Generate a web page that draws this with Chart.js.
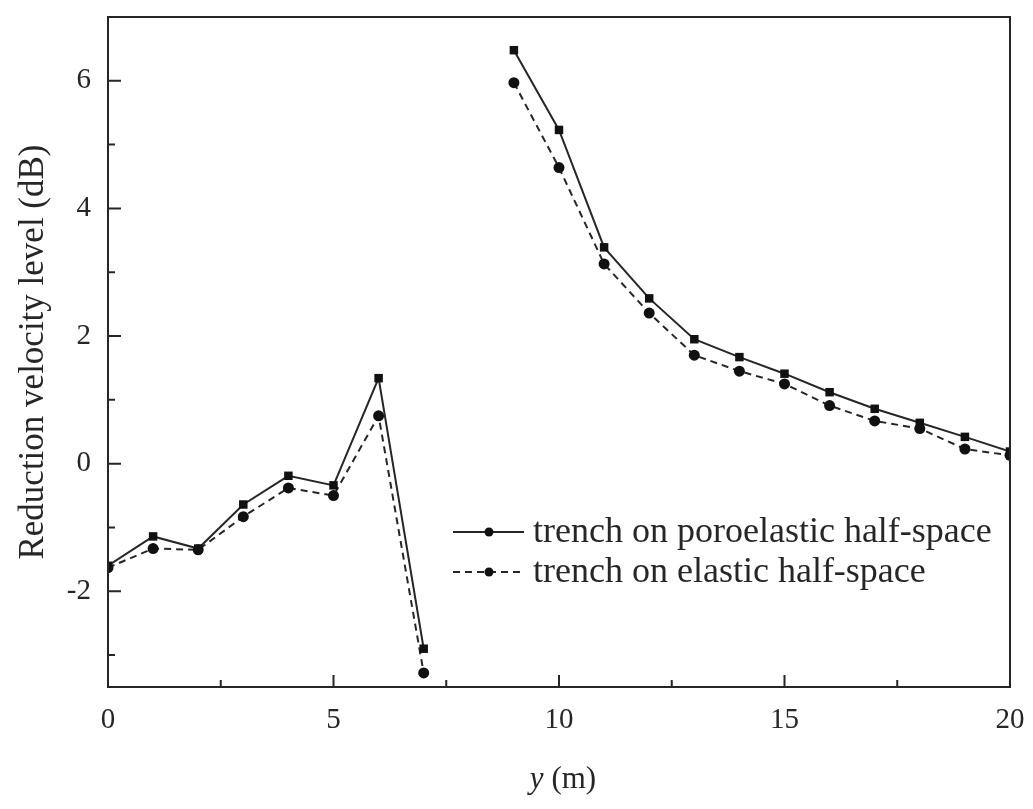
<!DOCTYPE html>
<html>
<head>
<meta charset="utf-8">
<script src="https://cdn.jsdelivr.net/npm/chart.js@4.4.0/dist/chart.umd.min.js"></script>
<style>
html,body{margin:0;padding:0;background:#fff;}
#wrap{width:1033px;height:809px;}
</style>
</head>
<body>
<div id="wrap"><canvas id="c" width="1033" height="809"></canvas></div>
<script>
// ---- data ----
const positions = [0,1,2,3,4,5,6,7,8,9,10,11,12,13,14,15,16,17,18,19,20];
const poroelastic = [-1.60,-1.14,-1.33,-0.64,-0.19,-0.34,1.34,-2.90,null,6.48,5.23,3.39,2.59,1.95,1.67,1.41,1.12,0.86,0.64,0.42,0.19];
const elastic = [-1.63,-1.33,-1.35,-0.83,-0.38,-0.50,0.75,-3.28,null,5.97,4.64,3.13,2.36,1.70,1.45,1.25,0.91,0.67,0.55,0.23,0.13];
const xTicks = [0,5,10,15,20];
const yTicks = [-2,0,2,4,6];
const xMinor = [2.5,7.5,12.5,17.5];
const yMinor = [-3,-1,1,3,5];
const seriesNames = ['trench on poroelastic half-space','trench on elastic half-space'];

const INK = '#262626';
const SERIF = '"Liberation Serif", "DejaVu Serif", serif';

const toPts = arr => positions.map((x,i)=>({x:x, y:arr[i]}));

const decor = {
  id:'decor',
  afterDatasetsDraw(chart){
    const ctx = chart.ctx, a = chart.chartArea;
    const xs = chart.scales.x, ys = chart.scales.y;
    ctx.save();
    ctx.strokeStyle = INK;
    ctx.lineWidth = 2;
    ctx.strokeRect(a.left, a.top, a.right-a.left, a.bottom-a.top);
    ctx.beginPath();
    xTicks.forEach(v=>{const p=xs.getPixelForValue(v); ctx.moveTo(p,a.bottom); ctx.lineTo(p,a.bottom-12);});
    xMinor.forEach(v=>{const p=xs.getPixelForValue(v); ctx.moveTo(p,a.bottom); ctx.lineTo(p,a.bottom-7);});
    yTicks.forEach(v=>{const p=ys.getPixelForValue(v); ctx.moveTo(a.left,p); ctx.lineTo(a.left+13,p);});
    yMinor.forEach(v=>{const p=ys.getPixelForValue(v); ctx.moveTo(a.left,p); ctx.lineTo(a.left+7,p);});
    ctx.stroke();
    ctx.restore();
  },
  afterDraw(chart){
    const ctx = chart.ctx, a = chart.chartArea;
    ctx.save();
    // legend
    const rows = [532, 572];
    const dashes = [[], [7,5]];
    ctx.font = '36px ' + SERIF;
    ctx.textBaseline = 'middle';
    ctx.textAlign = 'left';
    rows.forEach((y,i)=>{
      ctx.strokeStyle = INK; ctx.lineWidth = 2;
      ctx.setLineDash(dashes[i]);
      ctx.beginPath(); ctx.moveTo(453,y); ctx.lineTo(524,y); ctx.stroke();
      ctx.setLineDash([]);
      ctx.fillStyle = '#111';
      ctx.beginPath(); ctx.arc(489,y,4.5,0,Math.PI*2); ctx.fill();
      ctx.fillStyle = INK;
      ctx.fillText(seriesNames[i], 533, y+1);
    });
    // x title: italic y + (m)
    const cx = (a.left+a.right)/2 + 4;
    const ty = 780;
    ctx.font = 'italic 31px ' + SERIF;
    const w1 = ctx.measureText('y').width;
    ctx.font = '31px ' + SERIF;
    const w2 = ctx.measureText(' (m)').width;
    const sx = cx - (w1+w2)/2;
    ctx.font = 'italic 31px ' + SERIF;
    ctx.fillText('y', sx, ty);
    ctx.font = '31px ' + SERIF;
    ctx.fillText(' (m)', sx+w1, ty);
    ctx.restore();
  }
};

const noPad = s => { s.paddingTop = 0; s.paddingBottom = 0; s.paddingLeft = 0; s.paddingRight = 0; };

new Chart(document.getElementById('c'), {
  type:'line',
  data:{
    datasets:[
      {label:seriesNames[0], data:toPts(poroelastic), borderColor:INK, backgroundColor:'#111', borderWidth:2,
       pointStyle:'rect', pointRadius:6, pointBorderWidth:0, spanGaps:false, tension:0},
      {label:seriesNames[1], data:toPts(elastic), borderColor:INK, backgroundColor:'#111', borderWidth:2,
       borderDash:[7,5], pointStyle:'circle', pointRadius:5.5, pointBorderWidth:0, spanGaps:false, tension:0}
    ]
  },
  options:{
    responsive:false,
    animation:false,
    layout:{padding:{top:17, right:23, left:0, bottom:0}},
    plugins:{legend:{display:false}, tooltip:{enabled:false}},
    scales:{
      x:{type:'linear', min:0, max:20,
        afterBuildTicks: s => { s.ticks = xTicks.map(v=>({value:v})); },
        grid:{display:false, drawTicks:false}, border:{display:false},
        ticks:{padding:16, color:INK, font:{family:SERIF, size:29}, maxRotation:0},
        afterFit: s => { s.height = 122; noPad(s); }
      },
      y:{type:'linear', min:-3.5, max:7,
        afterBuildTicks: s => { s.ticks = yTicks.map(v=>({value:v})); },
        grid:{display:false, drawTicks:false}, border:{display:false},
        ticks:{padding:17, color:INK, font:{family:SERIF, size:29}},
        title:{display:true, text:'Reduction velocity level (dB)', color:INK, font:{family:SERIF, size:35}, padding:{top:13, bottom:0}},
        afterFit: s => { s.width = 108; noPad(s); }
      }
    }
  },
  plugins:[decor]
});
</script>
</body>
</html>
